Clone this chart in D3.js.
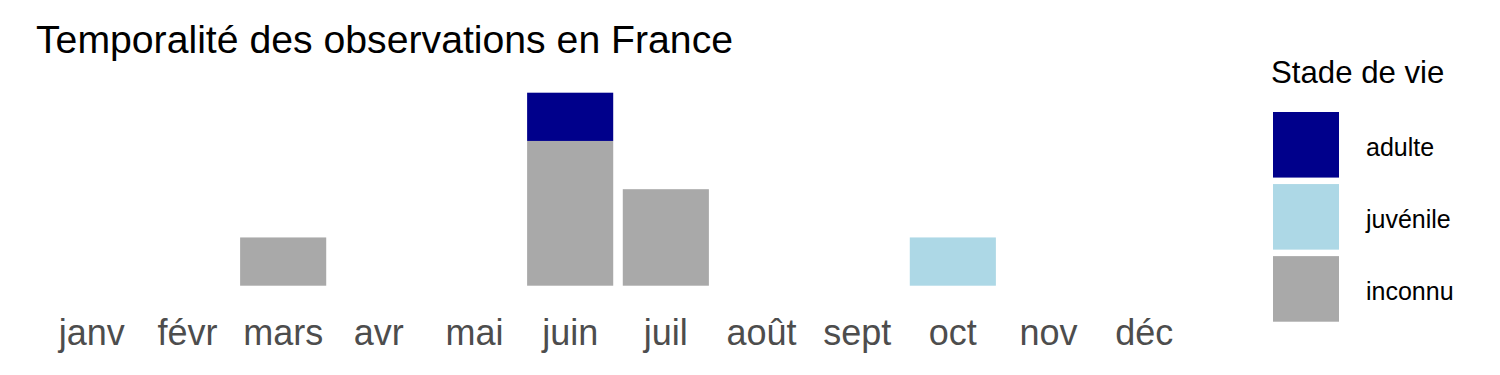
<!DOCTYPE html>
<html><head><meta charset="utf-8">
<script src="https://cdn.jsdelivr.net/npm/d3@7"></script>
<style>body{margin:0;background:#fff}svg{display:block}text{font-family:"Liberation Sans",Arial,sans-serif}</style>
</head><body>
<svg id="c" width="1500" height="375"></svg>
<script>
const months = ["janv","févr","mars","avr","mai","juin","juil","août","sept","oct","nov","déc"];
const stages = ["inconnu","juvénile","adulte"];
const legendOrder = ["adulte","juvénile","inconnu"];
const inconnu  = [0,0,1,0,0,3,2,0,0,0,0,0];
const juvenile = [0,0,0,0,0,0,0,0,0,1,0,0];
const adulte   = [0,0,0,0,0,1,0,0,0,0,0,0];
const colors = ["#A9A9A9","#ADD8E6","#00008B"];

const svg = d3.select("#c");
const rows = months.map((m,i)=>({month:m, "inconnu":inconnu[i], "juvénile":juvenile[i], "adulte":adulte[i]}));
const series = d3.stack().keys(stages)(rows);

const x = d3.scaleBand().domain(months).range([44,1192]).paddingInner(0.1).paddingOuter(0.05);
const y = d3.scaleLinear().domain([0,4]).range([285.7,92.7]);
const color = d3.scaleOrdinal().domain(stages).range(colors);

svg.append("g").selectAll("g").data(series).join("g")
  .attr("fill", d=>color(d.key))
  .selectAll("rect").data(d=>d.filter(p=>p[1]-p[0]>0)).join("rect")
  .attr("x", d=>x(d.data.month)).attr("width", x.bandwidth())
  .attr("y", d=>y(d[1])).attr("height", d=>y(d[0])-y(d[1]));

const ax = svg.append("g").attr("transform","translate(0,345)")
  .call(d3.axisBottom(x).tickSize(0).tickPadding(0));
ax.select(".domain").remove();
ax.selectAll("text").attr("dy",0).attr("font-size",36).attr("fill","#4D4D4D")
  .attr("font-family","Liberation Sans, Arial, sans-serif");

svg.append("text").attr("x",36).attr("y",53).attr("font-size",39.2).attr("fill","#000")
  .text("Temporalité des observations en France");

svg.append("text").attr("x",1271).attr("y",82.5).attr("font-size",31.2).attr("fill","#000").text("Stade de vie");
const ly = d3.scaleBand().domain(legendOrder).range([112,321.7]).paddingInner(0.09);
const lg = svg.append("g").selectAll("g").data(legendOrder).join("g");
lg.append("rect").attr("x",1273).attr("y",d=>ly(d)).attr("width",66).attr("height",ly.bandwidth()).attr("fill",d=>color(d));
lg.append("text").attr("x",1366).attr("y",d=>ly(d)+ly.bandwidth()/2+11).attr("font-size",25).attr("fill","#000").text(d=>d);
</script>
</body></html>
